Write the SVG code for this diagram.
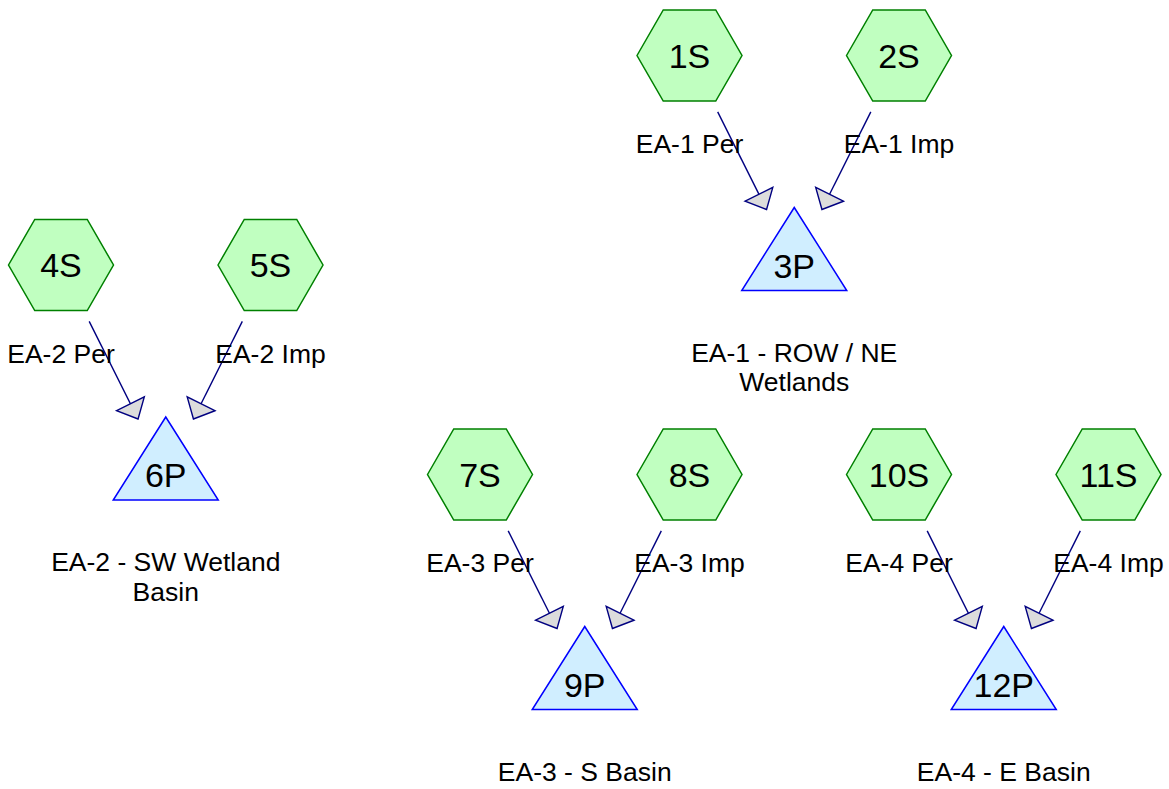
<svg xmlns="http://www.w3.org/2000/svg" width="1169" height="789" viewBox="0 0 1169 789">
<style>
text{font-family:"Liberation Sans",Arial,sans-serif;fill:#000;text-anchor:middle}
.hex{fill:#c0ffc0;stroke:#008000;stroke-width:1.5}
.pond{fill:#d0eeff;stroke:#0000ff;stroke-width:1.5}
.nl{font-size:34px}
.lbl{font-size:26.5px}
.edge{stroke:#000080;stroke-width:1.4;fill:none;marker-end:url(#ah)}
</style>
<defs>
<marker id="ah" markerUnits="userSpaceOnUse" orient="auto" viewBox="-2 -18 21 36" markerWidth="21" markerHeight="36" refX="17" refY="0">
<path d="M0,-15.5 L17,0 L0,15.5 Z" fill="#dcdcdc" stroke="#000080" stroke-width="1.4" stroke-linejoin="miter"/>
</marker>
<polygon id="hx" points="-52.5,0 -26.25,-45.5 26.25,-45.5 52.5,0 26.25,45.5 -26.25,45.5"/>
<polygon id="tri" points="0,-57.5 52.5,25.5 -52.5,25.5"/>
</defs>
<g id="connectors">
<line class="edge" x1="717.7" y1="111.9" x2="766.55" y2="209.5"/>
<line class="edge" x1="870.8" y1="111.9" x2="821.95" y2="209.5"/>
<line class="edge" x1="89.2" y1="321.4" x2="138.05" y2="419"/>
<line class="edge" x1="242.3" y1="321.4" x2="193.45" y2="419"/>
<line class="edge" x1="508.2" y1="530.9" x2="557.05" y2="628.5"/>
<line class="edge" x1="661.3" y1="530.9" x2="612.45" y2="628.5"/>
<line class="edge" x1="927.2" y1="530.9" x2="976.05" y2="628.5"/>
<line class="edge" x1="1080.3" y1="530.9" x2="1031.45" y2="628.5"/>
</g>
<g id="n1S"><use href="#hx" class="hex" x="689.5" y="55.5"/><text class="nl" x="689.5" y="67.5">1S</text><text class="lbl" x="689.5" y="153">EA-1 Per</text></g>
<g id="n2S"><use href="#hx" class="hex" x="899" y="55.5"/><text class="nl" x="899" y="67.5">2S</text><text class="lbl" x="899" y="153">EA-1 Imp</text></g>
<g id="n3P"><use href="#tri" class="pond" x="794.25" y="265"/><text class="nl" x="794.25" y="277.5">3P</text><text class="lbl" x="794.25" y="361.5">EA-1 - ROW / NE</text><text class="lbl" x="794.25" y="391">Wetlands</text></g>
<g id="n4S"><use href="#hx" class="hex" x="61" y="265"/><text class="nl" x="61" y="277">4S</text><text class="lbl" x="61" y="362.5">EA-2 Per</text></g>
<g id="n5S"><use href="#hx" class="hex" x="270.5" y="265"/><text class="nl" x="270.5" y="277">5S</text><text class="lbl" x="270.5" y="362.5">EA-2 Imp</text></g>
<g id="n6P"><use href="#tri" class="pond" x="165.75" y="474.5"/><text class="nl" x="165.75" y="487">6P</text><text class="lbl" x="165.75" y="571">EA-2 - SW Wetland</text><text class="lbl" x="165.75" y="600.5">Basin</text></g>
<g id="n7S"><use href="#hx" class="hex" x="480" y="474.5"/><text class="nl" x="480" y="486.5">7S</text><text class="lbl" x="480" y="572">EA-3 Per</text></g>
<g id="n8S"><use href="#hx" class="hex" x="689.5" y="474.5"/><text class="nl" x="689.5" y="486.5">8S</text><text class="lbl" x="689.5" y="572">EA-3 Imp</text></g>
<g id="n9P"><use href="#tri" class="pond" x="584.75" y="684"/><text class="nl" x="584.75" y="696.5">9P</text><text class="lbl" x="584.75" y="780.5">EA-3 - S Basin</text></g>
<g id="n10S"><use href="#hx" class="hex" x="899" y="474.5"/><text class="nl" x="899" y="486.5">10S</text><text class="lbl" x="899" y="572">EA-4 Per</text></g>
<g id="n11S"><use href="#hx" class="hex" x="1108.5" y="474.5"/><text class="nl" x="1108.5" y="486.5">11S</text><text class="lbl" x="1108.5" y="572">EA-4 Imp</text></g>
<g id="n12P"><use href="#tri" class="pond" x="1003.75" y="684"/><text class="nl" x="1003.75" y="696.5">12P</text><text class="lbl" x="1003.75" y="780.5">EA-4 - E Basin</text></g>
</svg>
